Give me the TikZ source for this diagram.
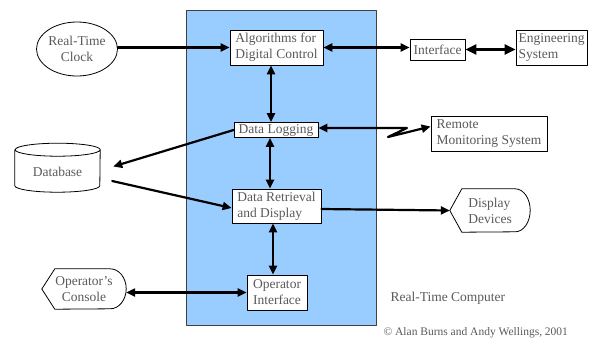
\documentclass[tikz,border=0pt]{standalone}
\usepackage{fontspec}
\setmainfont{Liberation Serif}
\usetikzlibrary{arrows.meta,shapes.geometric}
\definecolor{rtcblue}{RGB}{153,204,255}
\definecolor{labelgray}{RGB}{90,90,90}
\tikzset{
  unit/.style={draw, fill=white, line width=0.8pt, inner sep=0pt, align=left, text=labelgray},
  link/.style={line width=2.2pt, {Triangle[length=9pt,width=8pt]}-{Triangle[length=9pt,width=8pt]}},
  feed/.style={line width=2.2pt, -{Triangle[length=9pt,width=8pt]}},
}
\begin{document}
\begin{tikzpicture}[x=1pt, y=-1pt, font=\fontsize{13.5}{16}\selectfont, line join=round, line cap=round]
	\useasboundingbox (0,0) rectangle (596,341);
	% the real-time computer
	\draw[fill=rtcblue, draw=black!75, line width=0.8pt] (186,10) rectangle (376,325);
	\node[anchor=west, text=labelgray] (computer) at (387,298) {Real-Time Computer};
	\node[anchor=west, text=labelgray, font=\fontsize{11.5}{13}\selectfont] (copy) at (380,333) {\textcopyright{} Alan Burns and Andy Wellings, 2001};
	% tasks inside the computer
	\node[unit, minimum width=93, minimum height=35] (algo) at (276.5,47.5) {Algorithms for\\Digital Control};
	\node[unit, minimum width=84, minimum height=15] (dlog) at (276,130) {Data Logging};
	\node[unit, minimum width=89, minimum height=34] (dret) at (276.5,206) {Data Retrieval\\and Display};
	\node[unit, minimum width=60, minimum height=35] (opif) at (277,292.5) {Operator\\Interface};
	% outside world
	\node[ellipse, draw, line width=0.8pt, inner sep=0pt, minimum width=70, minimum height=54, align=center, text=labelgray] (clock) at (77,49) {Real-Time\\Clock};
	\node[unit, minimum width=55, minimum height=21] (iface) at (437.5,49.5) {Interface};
	\node[unit, minimum width=71, minimum height=35] (engsys) at (551.5,47.5) {Engineering\\System};
	\node[unit, minimum width=116, minimum height=35] (remote) at (489,133.5) {Remote\\Monitoring System};
	% database drum
	\node[inner sep=0pt, minimum width=85, minimum height=40, text=labelgray] (db) at (57.5,172) {Database};
	\draw[line width=0.8pt] ([yshift=42.5pt]db.south west) -- ([yshift=6.5pt]db.south west)
		arc[start angle=180, end angle=360, x radius=42.5pt, y radius=6.5pt]
		-- ([yshift=42.5pt]db.south east)
		arc[start angle=0, end angle=360, x radius=42.5pt, y radius=6.5pt];
	% display outlines: pointed left, round right
	\node[inner sep=0pt, minimum width=80, minimum height=43, align=left, text=labelgray] (disp) at (490,210.5) {Display\\Devices};
	\draw[line width=0.8pt] (disp.west) -- ([xshift=12pt]disp.north west) -- ([xshift=-15pt]disp.north east)
		arc[start angle=90, end angle=-90, x radius=15pt, y radius=21.5pt]
		-- ([xshift=12pt]disp.south west) -- cycle;
	\node[inner sep=0pt, minimum width=84, minimum height=40, align=center, text=labelgray] (console) at (84,289) {Operator’s\\Console};
	\draw[line width=0.8pt] (console.west) -- ([xshift=13pt]console.north west) -- ([xshift=-16pt]console.north east)
		arc[start angle=90, end angle=-90, x radius=16pt, y radius=20pt]
		-- ([xshift=13pt]console.south west) -- cycle;
	% connections
	\draw[feed] (clock.east |- algo.west) -- (algo.west);
	\draw[link] (algo.east) -- (algo.east -| iface.west);
	\draw[line width=3pt, {Triangle[length=11pt,width=10pt]}-{Triangle[length=11pt,width=10pt]}] (iface.east) -- (iface.east -| engsys.west);
	\draw[link] ([xshift=-5.5pt]algo.south) -- ([xshift=-5pt]dlog.north);
	\coordinate (zagA) at (407,128);
	\coordinate (zagB) at (388,137);
	\draw[link] ([yshift=2pt]dlog.east) -- (zagA) -- (zagB) -- ([yshift=7pt]remote.west);
	\draw[feed] (dlog.west) -- ([xshift=13pt,yshift=5.5pt]db.east);
	\draw[feed] ([xshift=12pt,yshift=-9pt]db.east) -- ([yshift=-2pt]dret.west);
	\draw[link] ([xshift=-6pt]dlog.south) -- ([xshift=-6.5pt]dret.north);
	\draw[feed] ([yshift=-3pt]dret.east) -- (disp.west);
	\draw[link] ([xshift=-3.5pt]dret.south) -- ([xshift=-4pt]opif.north);
	\draw[link] (opif.west -| console.east) -- (opif.west);
\end{tikzpicture}
\end{document}
